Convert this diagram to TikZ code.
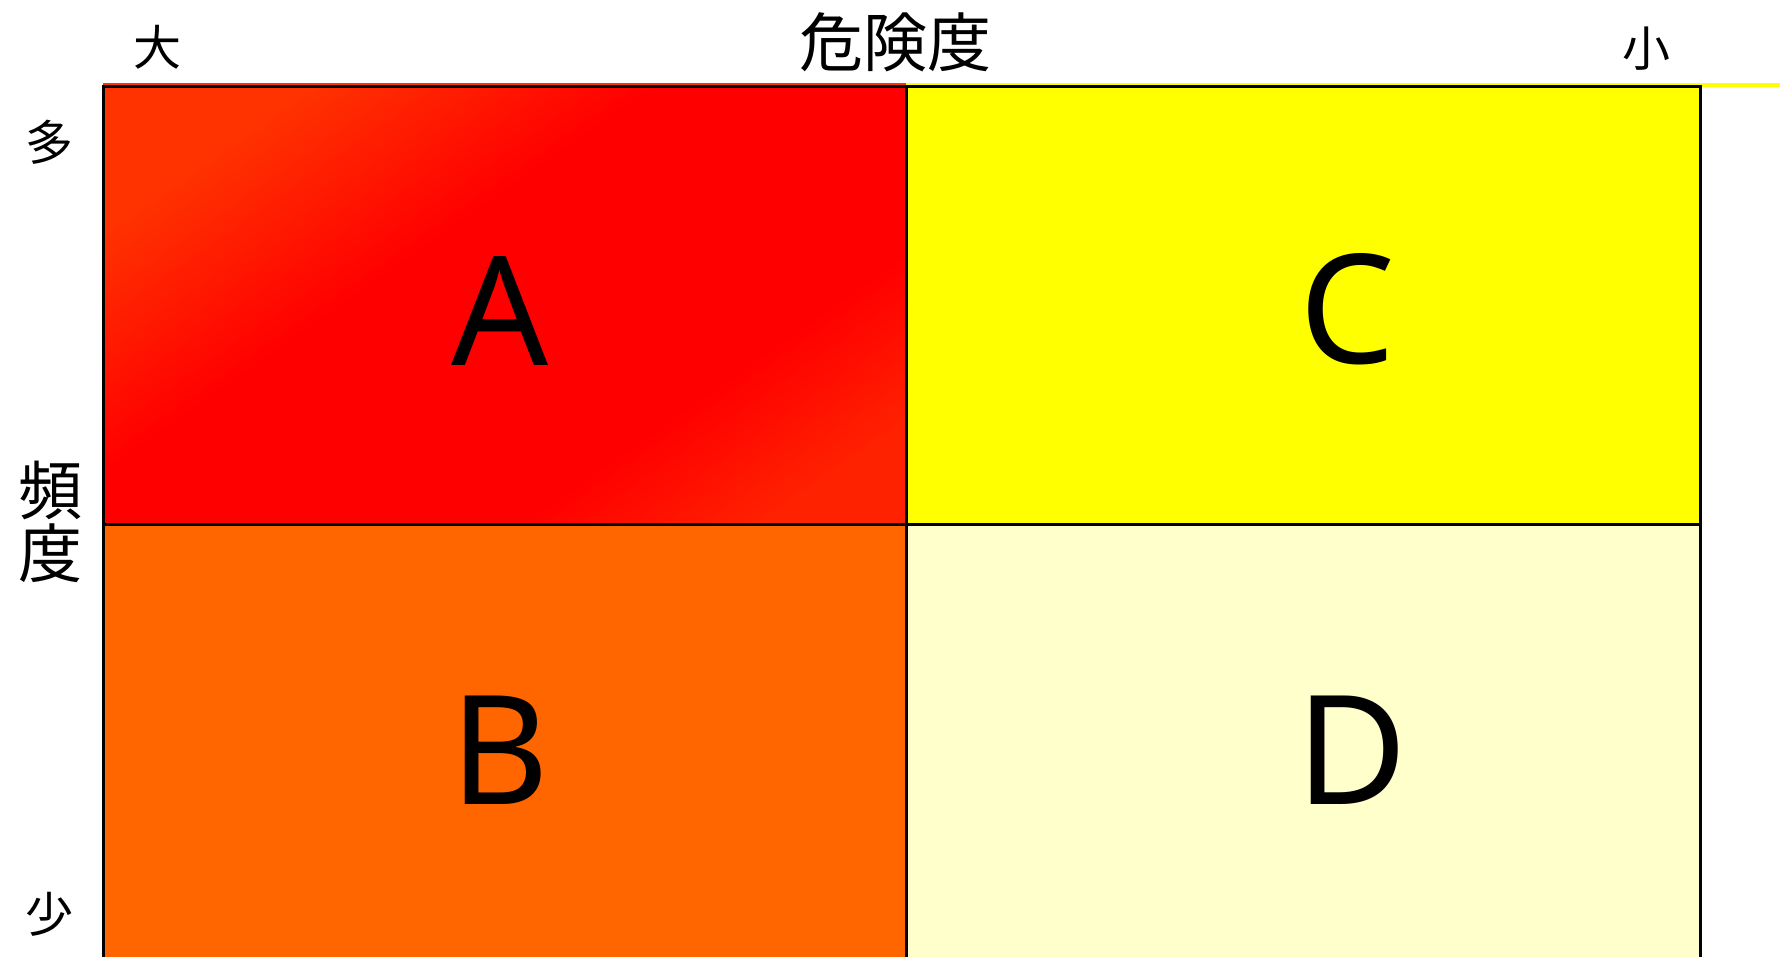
\documentclass[tikz,border=0pt]{standalone}
\usepackage{fontspec}
\newfontfamily\jp{Noto Sans CJK JP}
\newfontfamily\lat{Noto Sans}
\definecolor{cA}{HTML}{FF0000}
\definecolor{cAe}{HTML}{FF3300}
\definecolor{cAf}{HTML}{FF2200}
\definecolor{cB}{HTML}{FF6600}
\definecolor{cC}{HTML}{FFFF00}
\definecolor{cD}{HTML}{FFFFCC}
\pgfdeclarehorizontalshading{redfade}{100bp}{color(0bp)=(cAe); color(25bp)=(cAe); color(42bp)=(cA); color(66bp)=(cA); color(78bp)=(cAf); color(100bp)=(cAf)}
\begin{document}
\begin{tikzpicture}[x=1pt,y=-1pt,
  cellbox/.style={draw=black, line width=3pt, inner sep=0pt, outer sep=0pt, anchor=north west},
  letter/.style={font=\lat\fontsize{152}{160}\selectfont, inner sep=0pt},
  axis/.style={font=\jp\fontsize{48}{56}\selectfont, inner sep=0pt},
  title/.style={font=\jp\fontsize{64}{63}\selectfont, inner sep=0pt, align=center}]
\useasboundingbox (0,0) rectangle (1780,957);
\clip (0,0) rectangle (1780,957);
% top colour bands
\fill[cAe] (103,83) rectangle (906,88);
\fill[cC] (906,83) rectangle (1780,87);
% cells
\node[cellbox, minimum width=803pt, minimum height=437pt, shading=redfade, shading angle=-55] (cellA) at (103,87) {};
\node[cellbox, fill=cB, minimum width=803pt, minimum height=460pt] (cellB) at (103,524) {};
\node[cellbox, fill=cC, minimum width=794pt, minimum height=437pt] (cellC) at (906,87) {};
\node[cellbox, fill=cD, minimum width=794pt, minimum height=460pt] (cellD) at (906,524) {};
% letters
\node[letter] (lA) at (500,311) {A};
\node[letter] (lB) at (500,750) {B};
\node[letter] (lC) at (1348,309) {C};
\node[letter] (lD) at (1352,750) {D};
% axis labels
\node[title] (risk) at (895,42) {危険度};
\node[axis] (big) at (157,47) {大};
\node[axis] (small) at (1646,49) {小};
\node[axis] (many) at (49,142) {多};
\node[title] (freq) at (50,522) {頻\\度};
\node[axis] (few) at (49,914) {少};
\end{tikzpicture}
\end{document}
